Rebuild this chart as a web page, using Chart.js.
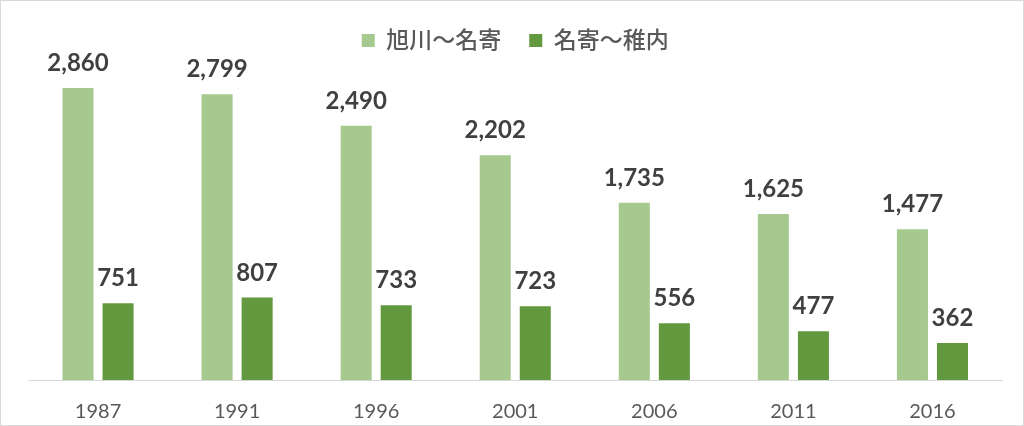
<!DOCTYPE html>
<html>
<head>
<meta charset="utf-8">
<script src="https://cdn.jsdelivr.net/npm/chart.js@4"></script>
<style>
  body { margin: 0; background: #fff; }
  #frame {
    position: absolute; left: 0; top: 0;
    width: 1024px; height: 426px;
    box-sizing: border-box;
    border: 1px solid #d9d9d9;
    background: #fff;
  }
  #chart { display: block; }
</style>
</head>
<body>
<div id="frame">
  <canvas id="chart" width="1022" height="424"></canvas>
</div>
<script>
// Values
const years = ['1987', '1991', '1996', '2001', '2006', '2011', '2016'];
const asahikawaNayoro = [2860, 2799, 2490, 2202, 1735, 1625, 1477];
const nayoroWakkanai = [751, 807, 733, 723, 556, 477, 362];
const seriesNames = ['旭川～名寄', '名寄～稚内'];

const lightGreen = '#a5c98f';
const darkGreen = '#62993e';
const textFont = "Lato, 'Noto Sans CJK JP', sans-serif";

// Bold value labels above every bar
const barLabels = {
    id: 'barLabels',
    afterDatasetsDraw(chart) {
        const ctx = chart.ctx;
        ctx.save();
        ctx.font = "bold 24px " + textFont;
        ctx.fillStyle = '#404040';
        ctx.textAlign = 'center';
        ctx.textBaseline = 'alphabetic';
        chart.data.datasets.forEach((ds, i) => {
            const meta = chart.getDatasetMeta(i);
            meta.data.forEach((bar, j) => {
                ctx.fillText(ds.data[j].toLocaleString('en-US'), bar.x, bar.y - 17);
            });
        });
        ctx.restore();
    }
};

new Chart(document.getElementById('chart'), {
    type: 'bar',
    data: {
        labels: years,
        datasets: [
            {
                label: seriesNames[0],
                data: asahikawaNayoro,
                backgroundColor: lightGreen,
                categoryPercentage: 0.576,
                barPercentage: 0.775
            },
            {
                label: seriesNames[1],
                data: nayoroWakkanai,
                backgroundColor: darkGreen,
                categoryPercentage: 0.576,
                barPercentage: 0.775
            }
        ]
    },
    options: {
        responsive: false,
        animation: false,
        layout: {
            padding: { left: 27.5, right: 21, top: 0, bottom: 0 }
        },
        scales: {
            x: {
                grid: { display: false },
                border: { color: '#d9d9d9', width: 1 },
                ticks: {
                    color: '#595959',
                    font: { family: textFont, size: 20 },
                    padding: 12
                },
                afterFit(scale) {
                    scale.height = 45;
                }
            },
            y: {
                display: false,
                min: 0,
                max: 3114
            }
        },
        plugins: {
            legend: {
                position: 'top',
                labels: {
                    color: '#595959',
                    font: { family: textFont, size: 23, weight: '500' },
                    boxWidth: 13,
                    boxHeight: 13,
                    padding: 28
                }
            },
            tooltip: { enabled: false }
        }
    },
    plugins: [barLabels]
});
</script>
</body>
</html>
